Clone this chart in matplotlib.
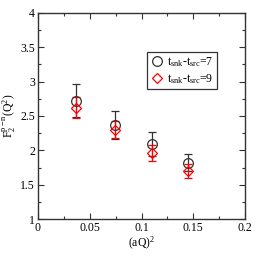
import matplotlib
matplotlib.use("Agg")
import matplotlib.pyplot as plt
from matplotlib.lines import Line2D
from matplotlib.ticker import MultipleLocator

plt.rcParams['font.family'] = ['Liberation Serif', 'DejaVu Serif']
plt.rcParams['mathtext.fontset'] = 'custom'
plt.rcParams['mathtext.rm'] = 'Liberation Serif'
plt.rcParams['mathtext.it'] = 'Liberation Serif'

x7 = [0.037, 0.0745, 0.110, 0.145]
y7 = [2.72, 2.37, 2.09, 1.82]
e7 = [0.24, 0.20, 0.17, 0.12]

x9 = [0.037, 0.0745, 0.110, 0.145]
y9 = [2.62, 2.30, 1.96, 1.70]
e9 = [0.15, 0.12, 0.12, 0.10]

labels = [r't$_{\mathrm{snk}}$-t$_{\mathrm{src}}$=7', r't$_{\mathrm{snk}}$-t$_{\mathrm{src}}$=9']
xticks = [0, 0.05, 0.1, 0.15, 0.2]
xticklabels = ['0', '0.05', '0.1', '0.15', '0.2']
yticks = [1, 1.5, 2, 2.5, 3, 3.5, 4]
yticklabels = ['1', '1.5', '2', '2.5', '3', '3.5', '4']

fig = plt.figure(figsize=(2.58, 2.58), dpi=100)
ax = fig.add_axes([0.147, 0.151, 0.803, 0.799])

ax.errorbar(x7, y7, yerr=e7, fmt='o', mfc='none', mec='#333333', color='#333333',
            ms=7, mew=0.9, elinewidth=0.9, capsize=3, capthick=0.9)
ax.errorbar(x9, y9, yerr=e9, fmt='D', mfc='none', mec='red', color='red',
            ms=5, mew=0.9, elinewidth=0.9, capsize=3, capthick=0.9)

ax.set_xlim(0, 0.2)
ax.set_ylim(1, 4)
ax.set_xticks(xticks)
ax.set_xticklabels(xticklabels)
ax.set_yticks(yticks)
ax.set_yticklabels(yticklabels)
ax.xaxis.set_minor_locator(MultipleLocator(0.025))
ax.yaxis.set_minor_locator(MultipleLocator(0.25))
ax.tick_params(which='both', direction='in', top=True, right=True, labelsize=8.5,
               color='#333333', width=0.8)
ax.tick_params(which='major', length=4, pad=2)
ax.tick_params(which='minor', length=2)
for s in ax.spines.values():
    s.set_color('#333333')
    s.set_linewidth(1.0)

ax.set_xlabel(r'(aQ)$^2$', fontsize=8.5, labelpad=1)
ax.set_ylabel(r'F$_2^{\mathrm{p-n}}$(Q$^2$)', fontsize=8.5, labelpad=2)

handles = [Line2D([], [], ls='none', marker='o', mfc='none', mec='#333333', ms=7, mew=0.9),
           Line2D([], [], ls='none', marker='D', mfc='none', mec='red', ms=5, mew=0.9)]
leg = ax.legend(handles, labels, loc='upper right', bbox_to_anchor=(0.865, 0.81), fontsize=8.5,
                frameon=True, fancybox=False, handlelength=1.0, handletextpad=0.4,
                borderpad=0.3, labelspacing=0.2, borderaxespad=0, framealpha=1)
leg.get_frame().set_edgecolor('#333333')
leg.get_frame().set_linewidth(0.9)

fig.savefig('out.png', dpi=100)
